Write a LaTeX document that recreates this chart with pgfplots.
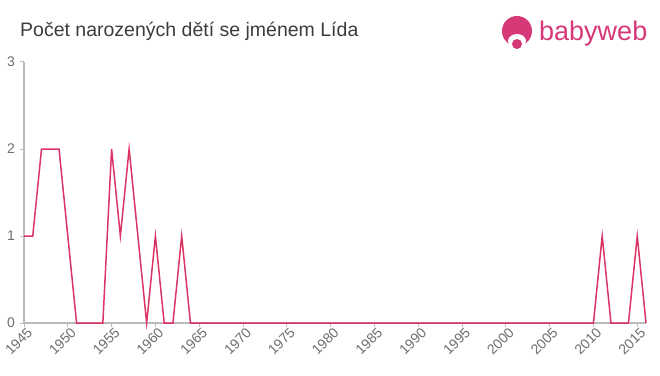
\documentclass[border=0pt]{standalone}
\usepackage{pgfplots}
\pgfplotsset{compat=1.18}
\usepackage{fontspec}
\setmainfont{Liberation Sans}
\definecolor{linec}{RGB}{218,52,100}
\definecolor{axisc}{RGB}{187,187,187}
\definecolor{tickc}{RGB}{110,110,110}
\definecolor{titlec}{RGB}{60,60,60}
\definecolor{logoc}{RGB}{214,56,120}
\begin{document}
\begin{tikzpicture}
\useasboundingbox (0pt,0pt) rectangle (660pt,375pt);
\node[anchor=west,text=titlec,font=\fontsize{19.5}{22}\selectfont,inner sep=0pt] at (20pt,344pt) {Počet narozených dětí se jménem Lída};
\fill[logoc] (517pt,344pt) circle (15pt);
\fill[white] (517pt,334pt) ellipse (9pt and 7pt);
\fill[logoc] (517pt,331pt) circle (5pt);
\node[anchor=west,text=logoc,font=\fontsize{27}{30}\selectfont,inner sep=0pt] at (539pt,341pt) {babyweb};
\begin{axis}[
  at={(24pt,52pt)}, anchor=south west,
  scale only axis, width=622pt, height=261pt,
  xmin=1945, xmax=2016, ymin=0, ymax=3,
  axis lines*=left,
  axis line style={draw=axisc, line width=1.2pt},
  xtick={1945,1950,...,2015},
  ytick={0,1,2,3},
  xticklabel style={rotate=45, anchor=north east, text=tickc, font=\fontsize{14}{16}\selectfont, inner sep=1pt, xshift=3pt},
  yticklabel style={text=tickc, font=\fontsize{14}{16}\selectfont, inner sep=1pt, xshift=-4pt},
  /pgf/number format/1000 sep={},
  /pgf/number format/assume math mode=true,
  tick style={draw=axisc, line width=1pt},
  major tick length=4pt,
  tick align=outside,
  clip=false,
]
\addplot[linec, line width=1.5pt, mark=none] coordinates {
(1945,1)(1946,1)(1947,2)(1948,2)(1949,2)(1950,1)(1951,0)(1952,0)(1953,0)(1954,0)
(1955,2)(1956,1)(1957,2)(1958,1)(1959,0)(1960,1)(1961,0)(1962,0)(1963,1)(1964,0)
(1965,0)(1966,0)(1967,0)(1968,0)(1969,0)(1970,0)(1971,0)(1972,0)(1973,0)(1974,0)
(1975,0)(1976,0)(1977,0)(1978,0)(1979,0)(1980,0)(1981,0)(1982,0)(1983,0)(1984,0)
(1985,0)(1986,0)(1987,0)(1988,0)(1989,0)(1990,0)(1991,0)(1992,0)(1993,0)(1994,0)
(1995,0)(1996,0)(1997,0)(1998,0)(1999,0)(2000,0)(2001,0)(2002,0)(2003,0)(2004,0)
(2005,0)(2006,0)(2007,0)(2008,0)(2009,0)(2010,0)(2011,1)(2012,0)(2013,0)(2014,0)
(2015,1)(2016,0)
};
\end{axis}
\end{tikzpicture}
\end{document}
